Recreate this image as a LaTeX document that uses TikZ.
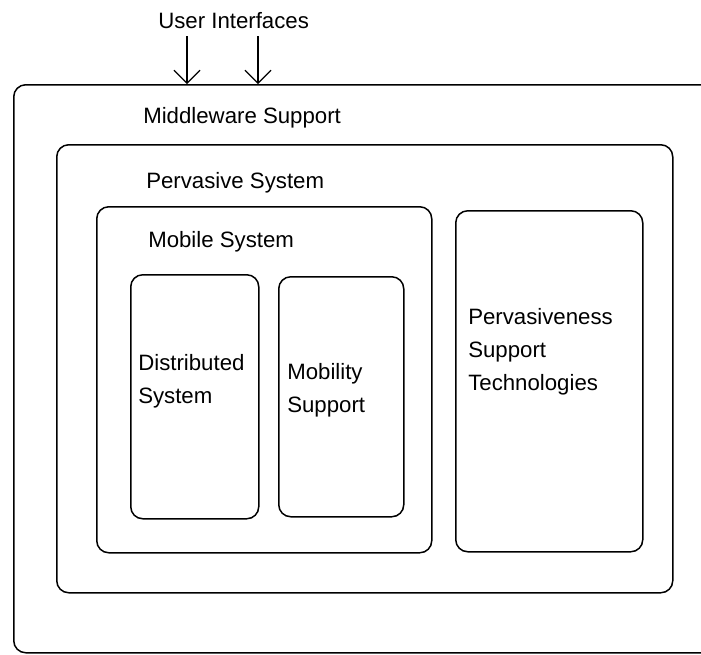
\documentclass[tikz,border=0pt]{standalone}
\usepackage{fontspec}
\setmainfont{Liberation Sans}
\usetikzlibrary{arrows.meta}

\newlength{\du}
\setlength{\du}{0.025cm}

\tikzset{
  layerbox/.style n args={2}{draw, rounded corners=12\du, line width=1.5\du,
    inner sep=0pt, anchor=north west, minimum width=#1\du, minimum height=#2\du},
  layerlabel/.style={anchor=base west, inner sep=0pt, align=left,
    font=\fontsize{15.8}{23.4}\selectfont},
  uiarrow/.style={line width=1.1\du, -{Straight Barb[length=0.325cm,width=0.65cm]}}
}

\begin{document}
\begin{tikzpicture}
\pgftransformyscale{-1.000000}
\useasboundingbox (0\du,0\du) rectangle (701\du,654\du);
\clip (0\du,0\du) rectangle (701\du,654\du);
% boxes
\node[layerbox={717}{568}] (middleware) at (13\du,84\du) {};
\node[layerbox={616}{448}] (pervasive) at (56\du,144\du) {};
\node[layerbox={335}{346}] (mobile) at (96\du,206\du) {};
\node[layerbox={128}{244}] (distributed) at (130\du,274\du) {};
\node[layerbox={125}{240}] (mobility) at (278\du,276\du) {};
\node[layerbox={187}{341}] (pervtech) at (455\du,210\du) {};
% labels (base = last line)
\node[layerlabel] (uilabel) at (158\du,28\du) {User Interfaces};
\node[layerlabel] (middlewarelabel) at (143\du,123\du) {Middleware Support};
\node[layerlabel] (pervasivelabel) at (146\du,188\du) {Pervasive System};
\node[layerlabel] (mobilelabel) at (148\du,247\du) {Mobile System};
\node[layerlabel] (distributedlabel) at (138\du,403\du) {Distributed\\System};
\node[layerlabel] (mobilitylabel) at (287\du,412\du) {Mobility\\Support};
\node[layerlabel] (pervtechlabel) at (468\du,390\du) {Pervasiveness\\Support\\Technologies};
% user interface arrows
\coordinate (ui1) at (187\du,36\du);
\coordinate (ui2) at (258\du,36\du);
\draw[uiarrow] (ui1) -- (ui1 |- middleware.north);
\draw[uiarrow] (ui2) -- (ui2 |- middleware.north);
\end{tikzpicture}
\end{document}
